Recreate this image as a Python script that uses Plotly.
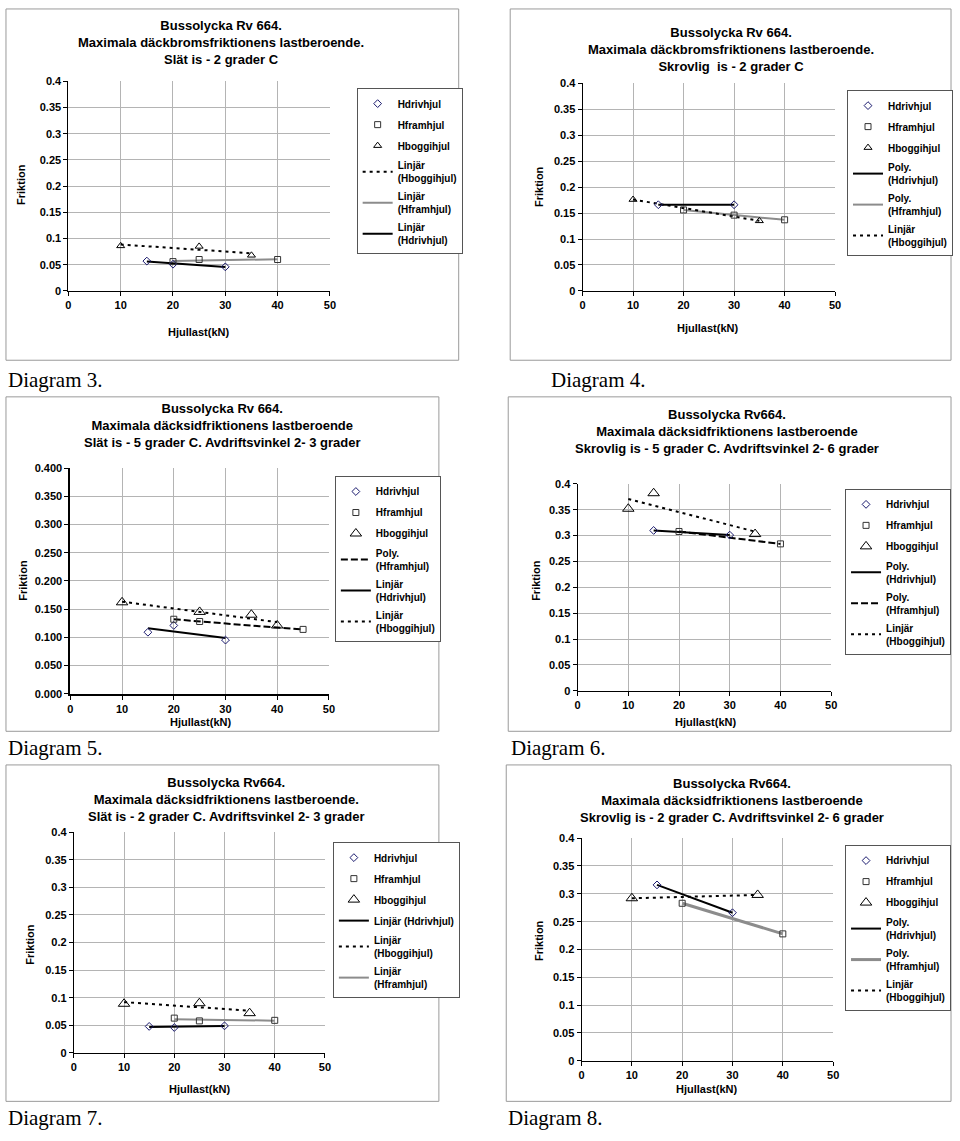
import numpy as np
import plotly.graph_objects as go

W, H = 960, 1141

# ---------------- data ----------------
# Diagram 3: Slät is -2 C, broms
d3_drive_x = [15, 20, 30]
d3_drive_y = [0.057, 0.051, 0.046]
d3_front_x = [20, 25, 40]
d3_front_y = [0.056, 0.060, 0.060]
d3_bogie_x = [10, 25, 35]
d3_bogie_y = [0.086, 0.085, 0.068]

# Diagram 4: Skrovlig is -2 C, broms
d4_drive_x = [15, 30]
d4_drive_y = [0.166, 0.166]
d4_front_x = [20, 30, 40]
d4_front_y = [0.156, 0.146, 0.137]
d4_bogie_x = [10, 35]
d4_bogie_y = [0.176, 0.135]

# Diagram 5: Slät is -5 C, sid
d5_drive_x = [15, 20, 30]
d5_drive_y = [0.109, 0.121, 0.095]
d5_front_x = [20, 25, 45]
d5_front_y = [0.132, 0.128, 0.114]
d5_bogie_x = [10, 25, 35, 40]
d5_bogie_y = [0.162, 0.145, 0.140, 0.121]

# Diagram 6: Skrovlig is -5 C, sid
d6_drive_x = [15, 30]
d6_drive_y = [0.310, 0.301]
d6_front_x = [20, 40]
d6_front_y = [0.308, 0.284]
d6_bogie_x = [10, 15, 35]
d6_bogie_y = [0.352, 0.382, 0.303]

# Diagram 7: Slät is -2 C, sid
d7_drive_x = [15, 20, 30]
d7_drive_y = [0.048, 0.046, 0.049]
d7_front_x = [20, 25, 40]
d7_front_y = [0.063, 0.058, 0.059]
d7_bogie_x = [10, 25, 35]
d7_bogie_y = [0.089, 0.090, 0.072]

# Diagram 8: Skrovlig is -2 C, sid
d8_drive_x = [15, 30]
d8_drive_y = [0.316, 0.266]
d8_front_x = [20, 40]
d8_front_y = [0.283, 0.228]
d8_bogie_x = [10, 35]
d8_bogie_y = [0.292, 0.298]

titles = [
    "Bussolycka Rv 664.<br>Maximala däckbromsfriktionens lastberoende.<br>Slät is - 2 grader C",
    "Bussolycka Rv 664.<br>Maximala däckbromsfriktionens lastberoende.<br>Skrovlig  is - 2 grader C",
    "Bussolycka Rv 664.<br>Maximala däcksidfriktionens lastberoende<br>Slät is - 5 grader C. Avdriftsvinkel 2- 3 grader",
    "Bussolycka Rv664.<br>Maximala däcksidfriktionens lastberoende<br>Skrovlig is - 5 grader C. Avdriftsvinkel 2- 6 grader",
    "Bussolycka Rv664.<br>Maximala däcksidfriktionens lastberoende.<br>Slät is - 2 grader C. Avdriftsvinkel 2- 3 grader",
    "Bussolycka Rv664.<br>Maximala däcksidfriktionens lastberoende<br>Skrovlig is - 2 grader C. Avdriftsvinkel 2- 6 grader",
]
diagram_labels = ["Diagram 3.", "Diagram 4.", "Diagram 5.", "Diagram 6.", "Diagram 7.", "Diagram 8."]
x_title = "Hjullast(kN)"
y_title = "Friktion"

FONT = "Liberation Sans, Arial, sans-serif"
NAVY = "#1a1a6e"
GRAY = "#8c8c8c"


def fx(px):
    return px / W


def fy(py):
    return 1 - py / H


def trend(x, y, deg):
    x = np.asarray(x, float)
    y = np.asarray(y, float)
    d = min(deg, len(x) - 1)
    c = np.polyfit(x, y, d)
    xs = np.linspace(x.min(), x.max(), 60)
    return xs, np.polyval(c, xs)


# trend spec: (series, kind, deg, color, dash, width)
panels = [
    dict(data=(d3_drive_x, d3_drive_y, d3_front_x, d3_front_y, d3_bogie_x, d3_bogie_y),
         plot=(66, 76, 330, 288), frame=(3, 3, 460, 358), title=(220, 37),
         xt=(197, 329), yt=(18, 180), leg=(357, 83), lab=(3, 378), tri=7, fmt="", axw=1,
         trends=[("bogie", "Linjär", 1, "black", "3px,4px", 2),
                 ("front", "Linjär", 1, GRAY, "solid", 2),
                 ("drive", "Linjär", 1, "black", "solid", 2)]),
    dict(data=(d4_drive_x, d4_drive_y, d4_front_x, d4_front_y, d4_bogie_x, d4_bogie_y),
         plot=(585, 78, 840, 288), frame=(512, 3, 957, 358), title=(735, 44),
         xt=(711, 325), yt=(541, 182), leg=(852, 85), lab=(551, 378), tri=7, fmt="", axw=1,
         trends=[("drive", "Poly.", 2, "black", "solid", 2),
                 ("front", "Poly.", 2, GRAY, "solid", 2),
                 ("bogie", "Linjär", 1, "black", "3px,4px", 2)]),
    dict(data=(d5_drive_x, d5_drive_y, d5_front_x, d5_front_y, d5_bogie_x, d5_bogie_y),
         plot=(68, 467, 329, 695), frame=(3, 395, 440, 733), title=(221, 424),
         xt=(199, 724), yt=(20, 580), leg=(335, 475), lab=(3, 750), tri=10, fmt=".3f", axw=2,
         trends=[("front", "Poly.", 2, "black", "7px,3px", 2),
                 ("drive", "Linjär", 1, "black", "solid", 2),
                 ("bogie", "Linjär", 1, "black", "3px,4px", 2)]),
    dict(data=(d6_drive_x, d6_drive_y, d6_front_x, d6_front_y, d6_bogie_x, d6_bogie_y),
         plot=(580, 483, 836, 692), frame=(510, 395, 957, 733), title=(731, 430),
         xt=(709, 724), yt=(538, 580), leg=(850, 488), lab=(511, 750), tri=10, fmt="", axw=1,
         trends=[("drive", "Poly.", 2, "black", "solid", 2),
                 ("front", "Poly.", 2, "black", "7px,3px", 2),
                 ("bogie", "Linjär", 1, "black", "3px,4px", 2)]),
    dict(data=(d7_drive_x, d7_drive_y, d7_front_x, d7_front_y, d7_bogie_x, d7_bogie_y),
         plot=(71.5, 835, 325, 1058), frame=(3, 767, 440, 1107), title=(225, 802),
         xt=(198, 1095), yt=(27, 948), leg=(333, 845), lab=(3, 1124), tri=10, fmt="", axw=1,
         trends=[("drive", "Linjär", 1, "black", "solid", 2),
                 ("bogie", "Linjär", 1, "black", "3px,4px", 2),
                 ("front", "Linjär", 1, GRAY, "solid", 2)]),
    dict(data=(d8_drive_x, d8_drive_y, d8_front_x, d8_front_y, d8_bogie_x, d8_bogie_y),
         plot=(584, 841, 838, 1066), frame=(508, 767, 957, 1107), title=(736, 803),
         xt=(710, 1095), yt=(541, 944), leg=(850, 848), lab=(508, 1124), tri=10, fmt="", axw=1,
         trends=[("drive", "Poly.", 2, "black", "solid", 2),
                 ("front", "Poly.", 2, GRAY, "solid", 3),
                 ("bogie", "Linjär", 1, "black", "3px,4px", 2)]),
]

names = {"drive": "Hdrivhjul", "front": "Hframhjul", "bogie": "Hboggihjul"}

fig = go.Figure()
shapes = []
annotations = []
layout = {}

for i, p in enumerate(panels, start=1):
    xa = "x" if i == 1 else f"x{i}"
    ya = "y" if i == 1 else f"y{i}"
    lg = "legend" if i == 1 else f"legend{i}"
    dx, dy, fxs, fys, bx, by = p["data"]
    series = {"drive": (dx, dy), "front": (fxs, fys), "bogie": (bx, by)}

    # trend lines first (drawn below markers), ranked after markers in legend
    for r, (s, kind, deg, col, dash, wdt) in enumerate(p["trends"]):
        xs, ys = trend(*series[s], deg)
        label = f"{kind}<br>({names[s]})"
        if i == 5 and s == "drive":
            label = f"{kind} ({names[s]})"
        fig.add_trace(go.Scatter(
            x=xs, y=ys, mode="lines", name=label, xaxis=xa, yaxis=ya, legend=lg,
            legendgroup=f"{i}t{r}", legendrank=10 + r,
            line=dict(color=col, dash=dash, width=wdt), hoverinfo="skip"))

    marker_specs = [
        ("drive", "diamond-open", 6, NAVY),
        ("front", "square-open", 6, "#333333"),
        ("bogie", "triangle-up-open", p["tri"], "black"),
    ]
    for r, (s, sym, sz, col) in enumerate(marker_specs):
        x, y = series[s]
        fig.add_trace(go.Scatter(
            x=x, y=y, mode="markers", name=names[s], xaxis=xa, yaxis=ya, legend=lg,
            legendgroup=f"{i}m{r}", legendrank=r + 1,
            marker=dict(symbol=sym, size=sz, color=col, line=dict(width=1, color=col))))

    x0, y0, x1, y1 = p["plot"]
    tickfont = dict(family=FONT, size=11, color="black", weight="bold")
    layout["xaxis" if i == 1 else f"xaxis{i}"] = dict(
        domain=[fx(x0), fx(x1)], anchor=ya, range=[0, 50], tick0=0, dtick=10,
        showgrid=True, gridcolor="#b4b4b4", gridwidth=1, zeroline=False,
        showline=True, linecolor="black", linewidth=p["axw"],
        ticks="outside", ticklen=4, tickcolor="black", tickfont=tickfont)
    layout["yaxis" if i == 1 else f"yaxis{i}"] = dict(
        domain=[fy(y1), fy(y0)], anchor=xa, range=[0, 0.4], tick0=0, dtick=0.05,
        tickformat=p["fmt"],
        showgrid=True, gridcolor="#b4b4b4", gridwidth=1, zeroline=False,
        showline=True, linecolor="black", linewidth=p["axw"],
        ticks="outside", ticklen=4, tickcolor="black", tickfont=tickfont)

    lx, ly = p["leg"]
    layout[lg] = dict(
        x=fx(lx), y=fy(ly), xanchor="left", yanchor="top", xref="paper", yref="paper",
        bgcolor="white", bordercolor="#555555", borderwidth=1,
        font=dict(family=FONT, size=10, color="black", weight="bold"),
        traceorder="grouped", tracegroupgap=2, itemwidth=30)

    fx0, fy0, fx1, fy1 = p["frame"]
    shapes.append(dict(type="rect", xref="paper", yref="paper",
                       x0=fx(fx0), x1=fx(fx1), y0=fy(fy1), y1=fy(fy0),
                       line=dict(color="#9a9a9a", width=1), layer="below"))

    tx, ty = p["title"]
    annotations.append(dict(text=titles[i - 1], x=fx(tx), y=fy(ty), xref="paper", yref="paper",
                            xanchor="center", yanchor="middle", showarrow=False,
                            font=dict(family=FONT, size=13, color="black", weight="bold")))
    ax_, ay_ = p["xt"]
    annotations.append(dict(text=x_title, x=fx(ax_), y=fy(ay_), xref="paper", yref="paper",
                            xanchor="center", yanchor="middle", showarrow=False,
                            font=dict(family=FONT, size=11, color="black", weight="bold")))
    bx_, by_ = p["yt"]
    annotations.append(dict(text=y_title, x=fx(bx_), y=fy(by_), xref="paper", yref="paper",
                            xanchor="center", yanchor="middle", showarrow=False, textangle=-90,
                            font=dict(family=FONT, size=11, color="black", weight="bold")))
    lbx, lby = p["lab"]
    annotations.append(dict(text=diagram_labels[i - 1], x=fx(lbx), y=fy(lby), xref="paper",
                            yref="paper", xanchor="left", yanchor="middle", showarrow=False,
                            font=dict(family="Liberation Serif, Times New Roman, serif",
                                      size=21, color="black")))

fig.update_layout(
    width=W, height=H, margin=dict(l=0, r=0, t=0, b=0),
    paper_bgcolor="white", plot_bgcolor="white", showlegend=True,
    shapes=shapes, annotations=annotations, **layout)

fig.write_html("out.html", config={"displayModeBar": False},
               post_script="document.body.style.margin='0';")
